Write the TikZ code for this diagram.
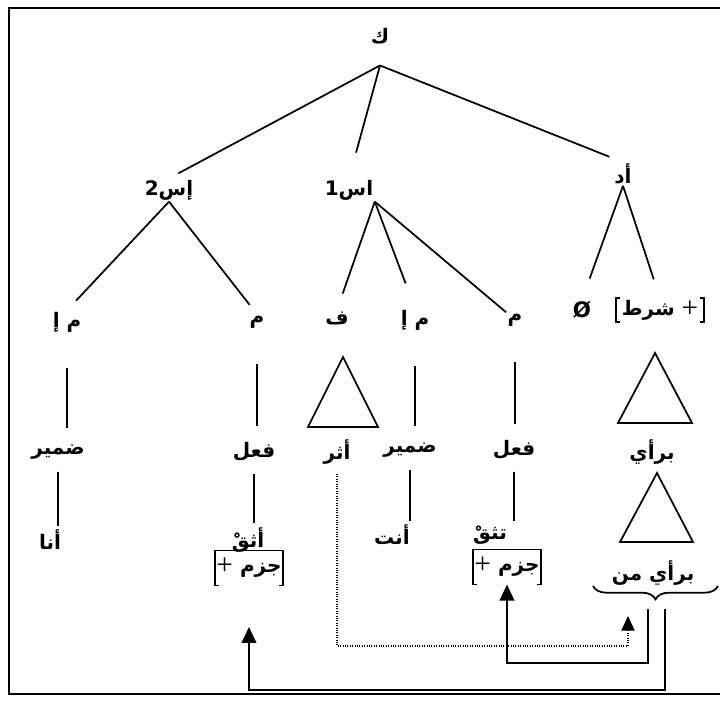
\documentclass[tikz,border=0pt]{standalone}
\usepackage{fontspec}
\usepackage{tikz}
\usetikzlibrary{arrows.meta,decorations.pathreplacing}
\setmainfont{Liberation Serif}
\newfontfamily\arabicfont[Script=Arabic]{DejaVu Sans}
\TeXXeTstate=1
\newcommand{\arb}[1]{{\arabicfont\beginR #1\endR}}
\newcommand{\plus}{\raisebox{-1.5pt}{\rmfamily\mdseries\fontsize{22}{22}\selectfont +}}

\begin{document}
\begin{tikzpicture}[x=0.75pt,y=-0.75pt]
				%\draw[help lines] (0,0) grid (720,702);
				\tikzset{
				lbl/.style 		= {inner sep=1pt, font=\arabicfont\bfseries\fontsize{15}{18}\selectfont},
				feat/.style 	= {lbl, minimum width=51pt, minimum height=26pt},
				br/.style 		= {line width=1.3pt},
				stem/.style 	= {br, shorten <=26pt, shorten >=11pt},
				stemb/.style 	= {br, shorten <=8pt, shorten >=2pt},
				arr/.style 		= {line width=1.3pt, -{Triangle[length=12pt,width=11pt]}},
				dotarr/.style 	= {line width=0.8pt, densely dotted, -{Triangle[length=11pt,width=10pt]}}}
				
				\useasboundingbox (0,0) rectangle (720,702);
				\draw[line width=1.8pt] (720,8) -- (9,8) -- (9,694) -- (720,694);
				
				% tree labels
				\node[lbl] (k) at (380,36) {\arb{ك}};
				\node[lbl] (is2) at (169,190) {\arb{إس2}};
				\node[lbl] (is1) at (349,190) {\arb{اس1}};
				\node[lbl] (ad) at (623,174) {\arb{أد}};
				
				\node[lbl] (me2) at (67,322) {\arb{م إ}};
				\node[lbl] (m2) at (257,322) {\arb{م}};
				\node[lbl] (f) at (337,318) {\arb{ف}};
				\node[lbl] (me1) at (415,320) {\arb{م إ}};
				\node[lbl] (m1) at (515,320) {\arb{م}};
				\node[lbl, font=\arabicfont\bfseries\fontsize{16}{18}\selectfont] (null) at (582,310) {Ø};
				\node[lbl, minimum height=17pt, inner xsep=4pt] (sh) at (660,310) {\arb{شرط}\ \plus};
				
				\node[lbl] (dmr2) at (58,452) {\arb{ضمير}};
				\node[lbl] (fl2) at (254,452) {\arb{فعل}};
				\node[lbl] (athr) at (337,452) {\arb{أثر}};
				\node[lbl] (dmr1) at (410,450) {\arb{ضمير}};
				\node[lbl] (fl1) at (514,450) {\arb{فعل}};
				\node[lbl] (bry) at (652,452) {\arb{برأي}};
				
				\node[lbl] (ana) at (50,540) {\arb{أنا}};
				\node[lbl] (athq) at (248,540) {\arb{أثقْ}};
				\node[lbl] (ant) at (392,535) {\arb{أنت}};
				\node[lbl] (tthq) at (490,535) {\arb{تثقْ}};
				\node[lbl] (brym) at (653,573) {\arb{برأي من}};
				
				\node[feat] (jz2) at (249,568) {\plus\ \arb{جزم}};
				\node[feat] (jz1) at (507,567) {\plus\ \arb{جزم}};
				
				% branches
				\draw[br, shorten >=8pt] ([yshift=-15pt]k.south) -- (is2.north);
				\draw[br, shorten >=20pt] ([yshift=-15pt]k.south) -- (is1.north);
				\draw[br, shorten >=11pt] ([yshift=-15pt]k.south) -- (ad.north);
				
				\draw[br, shorten >=10pt] (is2.south) -- (me2.north);
				\draw[br, shorten >=9pt] (is2.south) -- (m2.north);
				\draw[br, shorten >=13pt] (is1.south east) -- (f.north);
				\draw[br, shorten >=20pt] (is1.south east) -- (me1.north);
				\draw[br] (is1.south east) -- (m1.north west);
				\draw[br, shorten >=17pt] (ad.south) -- (null.north);
				\draw[br, shorten >=15pt] (ad.south) -- (sh.north);
				
				% stems
				\draw[stem] (me2.south) -- (me2.south |- dmr2.north);
				\draw[stem] (m2.south) -- (m2.south |- fl2.north);
				\draw[stem] (me1.south) -- (me1.south |- dmr1.north);
				\draw[stem] (m1.south) -- (m1.south |- fl1.north);
				\draw[stemb] (dmr2.south) -- (dmr2.south |- ana.north);
				\draw[stemb] (fl2.south) -- (fl2.south |- athq.north);
				\draw[stemb] (dmr1.south) -- (dmr1.south |- ant.north);
				\draw[stemb] (fl1.south) -- (fl1.south |- tthq.north);
				
				% triangles
				\draw[br] (f) ++(6,39) -- ++(-35,70) -- ++(70,0) -- cycle;
				\draw[br] (sh) ++(-5,43) -- ++(-37,70) -- ++(74,0) -- cycle;
				\draw[br] (bry) ++(5,21) -- ++(-37,69) -- ++(73,0) -- cycle;
				
				% feature brackets
				\draw[br] ([xshift=3pt]sh.north west) -| (sh.south west) -- ++(3pt,0);
				\draw[br] ([xshift=-3pt]sh.north east) -| (sh.south east) -- ++(-3pt,0);
				\draw[br] ([xshift=3pt]jz2.south west) -| (jz2.north west) -- (jz2.north east) |- ([xshift=-3pt]jz2.south east);
				\draw[br] ([xshift=3pt]jz1.south west) -| (jz1.north west) -- (jz1.north east) |- ([xshift=-3pt]jz1.south east);
				
				% brace and movement
				\coordinate (bl) at (593,586);
				\coordinate (bre) at (718,586);
				\coordinate (bq1) at (648,609);
				\coordinate (bq2) at (665,609);
				\coordinate (bt) at (628,616);
				\draw[br, decorate, decoration={brace, mirror, amplitude=10pt}] (bl) -- (bre);
				
				\draw[arr] (bq1) -- ++(0,54) -| (jz1.south);
				\draw[arr, shorten >=31pt] (bq2) -- ++(0,81) -| (jz2.south);
				\draw[dotarr, shorten <=6pt] (athr.south) -- ++(0,180) -| (bt);
\end{tikzpicture}
\end{document}
